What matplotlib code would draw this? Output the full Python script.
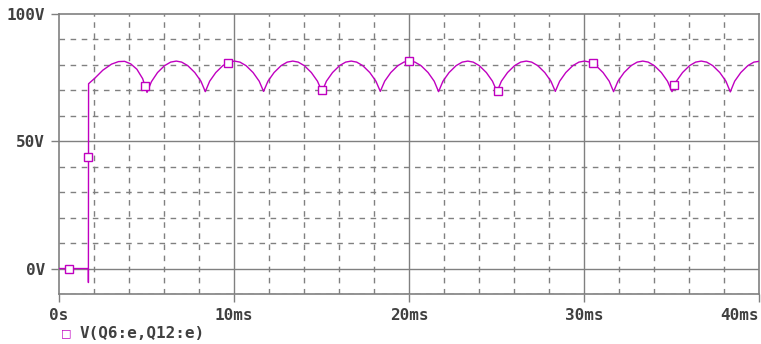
import matplotlib
matplotlib.use("Agg")
import matplotlib.pyplot as plt

# V(Q6:e,Q12:e) transient, time in ms, voltage in V
t_ms = [0.0, 1.68, 1.68, 1.69,
        2.05, 2.5, 3.0, 3.4, 3.75, 4.1, 4.45, 4.78,
        5.03, 5.28, 5.63, 6.03, 6.38, 6.70, 7.01, 7.36, 7.76, 8.11,
        8.36, 8.61, 8.96, 9.36, 9.71, 10.03, 10.34, 10.69, 11.09, 11.44,
        11.69, 11.94, 12.29, 12.69, 13.04, 13.36, 13.67, 14.02, 14.42, 14.77,
        15.03, 15.28, 15.63, 16.03, 16.38, 16.70, 17.01, 17.36, 17.76, 18.11,
        18.36, 18.61, 18.96, 19.36, 19.71, 20.03, 20.34, 20.69, 21.09, 21.44,
        21.69, 21.94, 22.29, 22.69, 23.04, 23.36, 23.67, 24.02, 24.42, 24.77,
        25.03, 25.28, 25.63, 26.03, 26.38, 26.70, 27.01, 27.36, 27.76, 28.11,
        28.36, 28.61, 28.96, 29.36, 29.71, 30.03, 30.34, 30.69, 31.09, 31.44,
        31.69, 31.94, 32.29, 32.69, 33.04, 33.36, 33.67, 34.02, 34.42, 34.77,
        35.03, 35.28, 35.63, 36.03, 36.38, 36.70, 37.01, 37.36, 37.76, 38.11,
        38.36, 38.61, 38.96, 39.36, 39.71, 40.0]
volts = [0.0, 0.0, -5.5, 72.6,
         74.8, 77.9, 80.3, 81.3, 81.4, 80.4, 78.3, 74.6,
         69.2, 73.4, 77.0, 79.7, 81.1, 81.5, 81.1, 79.7, 77.0, 73.6,
         69.5, 73.6, 77.0, 79.7, 81.1, 81.5, 81.1, 79.7, 77.0, 73.6,
         69.6, 73.6, 77.0, 79.7, 81.1, 81.5, 81.1, 79.7, 77.0, 73.6,
         69.5, 73.6, 77.0, 79.7, 81.1, 81.5, 81.1, 79.7, 77.0, 73.6,
         69.6, 73.6, 77.0, 79.7, 81.1, 81.5, 81.1, 79.7, 77.0, 73.6,
         69.5, 73.6, 77.0, 79.7, 81.1, 81.5, 81.1, 79.7, 77.0, 73.6,
         69.5, 73.6, 77.0, 79.7, 81.1, 81.5, 81.1, 79.7, 77.0, 73.6,
         69.6, 73.6, 77.0, 79.7, 81.1, 81.5, 81.1, 79.7, 77.0, 73.6,
         69.5, 73.6, 77.0, 79.7, 81.1, 81.5, 81.1, 79.7, 77.0, 73.6,
         69.5, 73.6, 77.0, 79.7, 81.1, 81.5, 81.1, 79.7, 77.0, 73.6,
         69.4, 73.6, 77.0, 79.7, 81.1, 81.4]

# marker squares drawn on the trace
mark_t = [0.57, 1.68, 4.91, 9.64, 15.05, 20.02, 25.07, 30.5, 35.16]
mark_v = [0.0, 43.7, 71.9, 80.6, 70.3, 81.5, 69.9, 80.6, 72.1]

x_ticks = [0, 10, 20, 30, 40]
x_labels = ["0s", "10ms", "20ms", "30ms", "40ms"]
y_ticks = [0, 50, 100]
y_labels = ["0V", "50V", "100V"]
trace_name = "V(Q6:e,Q12:e)"

line_col = "#c000c0"
grid_col = "#808080"
text_col = "#404040"

fig = plt.figure(figsize=(7.61, 3.44), dpi=100)
ax = fig.add_axes([59 / 761, 1 - 294 / 344, 700 / 761, 280 / 344])

ax.set_xlim(0, 40)
ax.set_ylim(-10, 100)

# dashed grid every 2 ms / 10 V, solid at the labelled ticks
for x in range(2, 40, 2):
    if x % 10:
        ax.axvline(x, color=grid_col, lw=1, ls=(0, (4, 4)), zorder=1)
for y in range(-10, 100, 10):
    if y % 50:
        ax.axhline(y, color=grid_col, lw=1, ls=(0, (4, 4)), zorder=1)
for x in x_ticks[1:-1]:
    ax.axvline(x, color=grid_col, lw=1, zorder=1)
for y in y_ticks[:-1]:
    ax.axhline(y, color=grid_col, lw=1, zorder=1)

ax.plot(t_ms, volts, color=line_col, lw=1, zorder=3)
ax.plot(mark_t, mark_v, ls="none", marker="s", ms=6, mfc="white",
        mec=line_col, mew=1, zorder=4)

ax.set_xticks(x_ticks)
ax.set_xticklabels(x_labels)
ax.set_yticks(y_ticks)
ax.set_yticklabels(y_labels)
ax.tick_params(direction="out", length=6, width=1, color=grid_col,
               labelcolor=text_col, labelsize=11.5, pad=4)
for lbl in ax.get_xticklabels() + ax.get_yticklabels():
    lbl.set_family("DejaVu Sans Mono")
    lbl.set_weight("bold")
# last time label sits flush with the right edge
ax.get_xticklabels()[-1].set_horizontalalignment("right")
for sp in ax.spines.values():
    sp.set_color(grid_col)
    sp.set_linewidth(1.2)

# legend entry below the axis
fig.text(66 / 761, 1 - 333 / 344, "\u25a1", color=line_col, fontsize=8,
         ha="center", va="center")
fig.text(80 / 761, 1 - 333 / 344, trace_name, color=text_col, fontsize=11.5,
         family="DejaVu Sans Mono", weight="bold", va="center")

fig.savefig("out.png", dpi=100)
